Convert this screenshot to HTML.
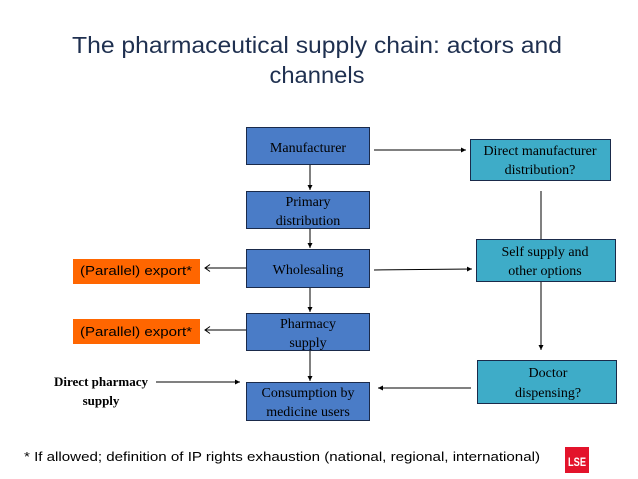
<!DOCTYPE html>
<html><head><meta charset="utf-8"><style>
html,body{margin:0;padding:0;background:#fff;}
svg{display:block;}
</style></head><body>
<svg width="638" height="479" viewBox="0 0 638 479" xmlns="http://www.w3.org/2000/svg">
<defs>
<marker id="a" markerWidth="6" markerHeight="6" refX="5" refY="3" orient="auto" markerUnits="userSpaceOnUse"><path d="M0,0.5 L5,3 L0,5.5 z" fill="#000"/></marker>
<marker id="o" markerWidth="8" markerHeight="8" refX="6" refY="4" orient="auto" markerUnits="userSpaceOnUse"><path d="M1,0.5 L6,4 L1,7.5" fill="none" stroke="#000"/></marker>
</defs>
<g font-family="Liberation Sans, sans-serif" fill="#1f3050" font-size="23" text-anchor="middle">
<text x="317" y="53" textLength="490" lengthAdjust="spacingAndGlyphs">The pharmaceutical supply chain: actors and</text>
<text x="317" y="83" textLength="95" lengthAdjust="spacingAndGlyphs">channels</text>
</g>
<g stroke="#1a2a4a" stroke-width="1">
<rect x="246.5" y="127.5" width="123" height="37" fill="#4a7cc7"/>
<rect x="246.5" y="191.5" width="123" height="37" fill="#4a7cc7"/>
<rect x="246.5" y="249.5" width="123" height="38" fill="#4a7cc7"/>
<rect x="246.5" y="313.5" width="123" height="37" fill="#4a7cc7"/>
<rect x="246.5" y="382.5" width="123" height="38" fill="#4a7cc7"/>
<rect x="470.5" y="139.5" width="140" height="41" fill="#3eacc8"/>
<rect x="476.5" y="239.5" width="139" height="42" fill="#3eacc8"/>
<rect x="477.5" y="360.5" width="139" height="43" fill="#3eacc8"/>
</g>
<rect x="73" y="259" width="127" height="25" fill="#ff6600"/>
<rect x="73" y="319" width="127" height="25" fill="#ff6600"/>
<g stroke="#000" stroke-width="1" fill="none">
<line x1="310" y1="165" x2="310" y2="190" marker-end="url(#a)"/>
<line x1="310" y1="229" x2="310" y2="248" marker-end="url(#a)"/>
<line x1="310" y1="288" x2="310" y2="312" marker-end="url(#a)"/>
<line x1="310" y1="351" x2="310" y2="381" marker-end="url(#a)"/>
<line x1="374" y1="150" x2="466" y2="150" marker-end="url(#a)"/>
<line x1="374" y1="270" x2="472" y2="269" marker-end="url(#a)"/>
<line x1="541" y1="191" x2="541" y2="239"/>
<line x1="541" y1="282" x2="541" y2="350" marker-end="url(#a)"/>
<line x1="246" y1="268" x2="205" y2="268" marker-end="url(#o)"/>
<line x1="246" y1="330" x2="205" y2="330" marker-end="url(#o)"/>
<line x1="156" y1="382" x2="240" y2="382" marker-end="url(#a)"/>
<line x1="471" y1="388" x2="378" y2="388" marker-end="url(#a)"/>
</g>
<g font-family="Liberation Serif, serif" font-size="14" fill="#000" text-anchor="middle">
<text x="308" y="152">Manufacturer</text>
<text x="308" y="206">Primary</text><text x="308" y="225">distribution</text>
<text x="308" y="274">Wholesaling</text>
<text x="308" y="328">Pharmacy</text><text x="308" y="347">supply</text>
<text x="308" y="397">Consumption by</text><text x="308" y="416">medicine users</text>
<text x="540" y="155">Direct manufacturer</text><text x="540" y="174">distribution?</text>
<text x="545" y="256">Self supply and</text><text x="545" y="275">other options</text>
<text x="548" y="377">Doctor</text><text x="548" y="397">dispensing?</text>
<g font-weight="bold" font-size="13"><text x="101" y="386">Direct pharmacy</text><text x="101" y="405">supply</text></g>
</g>
<g font-family="Liberation Sans, sans-serif" font-size="13" fill="#000">
<text x="80" y="275" textLength="112" lengthAdjust="spacingAndGlyphs">(Parallel) export*</text>
<text x="80" y="336" textLength="112" lengthAdjust="spacingAndGlyphs">(Parallel) export*</text>
<text x="24" y="461" textLength="516" lengthAdjust="spacingAndGlyphs">* If allowed; definition of IP rights exhaustion (national, regional, international)</text>
</g>
<rect x="565" y="447" width="24" height="26" fill="#e3132b"/>
<text x="577" y="466" font-family="Liberation Sans, sans-serif" font-size="12" font-weight="bold" fill="#fff" text-anchor="middle" textLength="18" lengthAdjust="spacingAndGlyphs">LSE</text>
</svg>
</body></html>
